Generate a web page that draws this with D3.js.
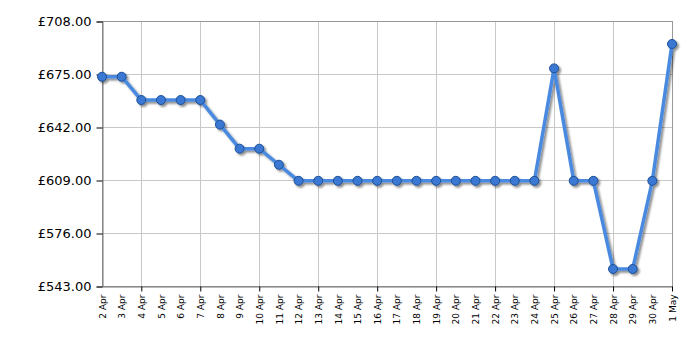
<!DOCTYPE html>
<html>
<head>
<meta charset="utf-8">
<script src="https://cdn.jsdelivr.net/npm/d3@7"></script>
<style>
  body { margin: 0; background: #fff; }
  svg text { font-family: Verdana, "DejaVu Sans", sans-serif; fill: #000; }
</style>
</head>
<body>
<script>
// Price history, 2 Apr - 1 May
var days = ["2 Apr","3 Apr","4 Apr","5 Apr","6 Apr","7 Apr","8 Apr","9 Apr","10 Apr","11 Apr",
  "12 Apr","13 Apr","14 Apr","15 Apr","16 Apr","17 Apr","18 Apr","19 Apr","20 Apr","21 Apr",
  "22 Apr","23 Apr","24 Apr","25 Apr","26 Apr","27 Apr","28 Apr","29 Apr","30 Apr","1 May"];
var prices = [673.3, 673.3, 658.8, 658.8, 658.8, 658.8, 643.5, 628.5, 628.5, 618.5,
  608.5, 608.5, 608.5, 608.5, 608.5, 608.5, 608.5, 608.5, 608.5, 608.5,
  608.5, 608.5, 608.5, 678.5, 608.5, 608.5, 553.6, 553.6, 608.5, 693.7];
var yTicks = [543, 576, 609, 642, 675, 708];

window.onload = function(){
  var w = 700, h = 350;
  var pl = 102, pr = 672, pt = 21, pb = 286;

  var svg = d3.select("body").append("svg")
    .attr("width", w)
    .attr("height", h);

  var defs = svg.append("defs");
  var f = defs.append("filter").attr("id", "shadow")
    .attr("x", "-20%").attr("y", "-20%").attr("width", "140%").attr("height", "140%");
  f.append("feDropShadow")
    .attr("dx", 2).attr("dy", 2).attr("stdDeviation", 1.2)
    .attr("flood-color", "#000").attr("flood-opacity", 0.45);

  var x = d3.scalePoint()
    .domain(days)
    .range([pl, pr]);

  var y = d3.scaleLinear()
    .domain([543, 708])
    .range([pb, pt]);

  // horizontal grid
  svg.append("g").selectAll("line")
    .data(yTicks)
    .enter().append("line")
    .attr("x1", pl).attr("x2", pr)
    .attr("y1", function(d){ return Math.round(y(d)) + 0.5; })
    .attr("y2", function(d){ return Math.round(y(d)) + 0.5; })
    .style("stroke", "#c8c8c8");

  // vertical grid, every third day
  var gridDays = days.filter(function(d, i){ return i % 3 === 2; });
  svg.append("g").selectAll("line")
    .data(gridDays)
    .enter().append("line")
    .attr("x1", function(d){ return Math.round(x(d)) + 0.5; })
    .attr("x2", function(d){ return Math.round(x(d)) + 0.5; })
    .attr("y1", pt).attr("y2", pb)
    .style("stroke", "#c8c8c8");

  // plot frame
  svg.append("rect")
    .attr("x", pl + 0.5).attr("y", pt + 0.5)
    .attr("width", pr - pl).attr("height", pb - pt)
    .style("fill", "none")
    .style("stroke", "#999");

  // y axis
  var yAxis = d3.axisLeft(y)
    .tickValues(yTicks)
    .tickSize(6)
    .tickPadding(5)
    .tickFormat(function(d){ return "£" + d3.format(".2f")(d); });
  var ga = svg.append("g")
    .attr("transform", "translate(" + (pl + 0.5) + ",0.5)")
    .call(yAxis);
  ga.select(".domain").style("stroke", "#777");
  ga.selectAll(".tick line").style("stroke", "#000");
  ga.selectAll("text").style("font-size", "13px");

  // x axis
  var xAxis = d3.axisBottom(x)
    .tickSize(0)
    .tickPadding(0);
  var gx = svg.append("g")
    .attr("transform", "translate(0," + (pb + 0.5) + ")")
    .call(xAxis);
  gx.select(".domain").style("stroke", "#777");
  gx.selectAll(".tick text")
    .style("font-size", "9px")
    .attr("text-anchor", "end")
    .attr("transform", "rotate(-90)")
    .attr("x", -8)
    .attr("y", 0)
    .attr("dy", "0.35em");
  gx.selectAll(".tick")
    .filter(function(d, i){ return i % 3 === 2; })
    .append("line")
    .attr("y1", 0).attr("y2", 5)
    .style("stroke", "#000");

  // series
  var line = d3.line()
    .x(function(d, i){ return x(days[i]); })
    .y(function(d){ return y(d); });

  var series = svg.append("g").attr("filter", "url(#shadow)");
  series.append("path")
    .datum(prices)
    .attr("d", line)
    .style("fill", "none")
    .style("stroke", "#4a8ae0")
    .style("stroke-width", 3.5)
    .style("stroke-linejoin", "round");

  series.selectAll(".pt")
    .data(prices)
    .enter().append("circle")
    .attr("class", "pt")
    .attr("cx", function(d, i){ return x(days[i]); })
    .attr("cy", function(d){ return y(d); })
    .attr("r", 4.5)
    .style("fill", "#3a78d4")
    .style("stroke", "#1d4f94")
    .style("stroke-width", 1);
};
</script>
</body>
</html>
